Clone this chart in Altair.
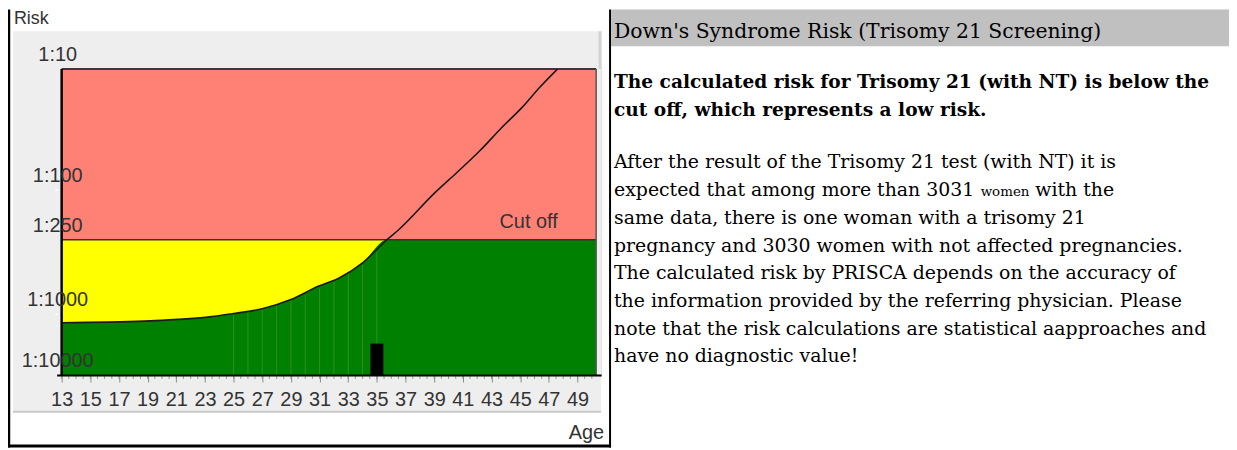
import altair as alt
import pandas as pd

# ---------------- data ----------------
AGES = [13, 18.8, 21.1, 23.2, 24.9, 27.0, 29.0, 30.9, 32.4, 34.0, 35.7, 36.5, 39.0, 40.6, 42.2, 43.7, 45.1, 46.4, 47.6]
RISK = [1368, 1288, 1208, 1107, 987, 900, 759, 594, 506, 384, 250, 209, 106, 71, 47, 30.5, 20.9, 14, 10]
CUTOFF = 250
PATIENT_AGE = [35]
PATIENT_RISK = [3031]
AGE_RANGE = [13, 50.3]
RISK_RANGE = [10, 10000]
Y_TICKS = [10, 100, 250, 1000, 10000]
X_TICKS = list(range(13, 50, 2))
MINOR_TICKS = [13 + 0.5 * i for i in range(75)]
# faint render seams visible in the green region (age, top risk)
SEAM_AGES = [25, 26, 27, 28, 29, 30, 31, 32, 33, 34, 35]
SEAM_TOPS = [1000, 960, 915, 850, 780, 700, 615, 545, 475, 400, 315]

HEADER = "Down's Syndrome Risk (Trisomy 21 Screening)"
RESULT_LINES = [
    "The calculated risk for Trisomy 21 (with NT) is below the",
    "cut off, which represents a low risk.",
]
BODY_LINES = [
    "After the result of the Trisomy 21 test (with NT) it is",
    "expected that among more than 3031",
    "same data, there is one woman with a trisomy 21",
    "pregnancy and 3030 women with not affected pregnancies.",
    "The calculated risk by PRISCA depends on the accuracy of",
    "the information provided by the referring physician. Please",
    "note that the risk calculations are statistical aapproaches and",
    "have no diagnostic value!",
]
SMALL_WORD = "women"
LINE2_TAIL = "with the"

# ---------------- tables ----------------
curve = pd.DataFrame({"age": AGES, "risk": RISK})
area = pd.DataFrame({
    "age": AGES + [AGE_RANGE[1]],
    "risk": [max(r, CUTOFF) for r in RISK] + [CUTOFF],
})
zones = pd.DataFrame({
    "zone": ["high", "low"],
    "a0": [AGE_RANGE[0]] * 2,
    "a1": [AGE_RANGE[1]] * 2,
    "r0": [RISK_RANGE[0], CUTOFF],
    "r1": [CUTOFF, RISK_RANGE[1]],
})
patient = pd.DataFrame({"age": PATIENT_AGE, "risk": PATIENT_RISK})
seams = pd.DataFrame({"age": SEAM_AGES, "risk": SEAM_TOPS})
yticks = pd.DataFrame({"risk": Y_TICKS, "label": [f"1:{v}" for v in Y_TICKS]})
minor = pd.DataFrame({"age": MINOR_TICKS})
frame = pd.DataFrame({"a0": [AGE_RANGE[0]], "a1": [AGE_RANGE[1]],
                      "r0": [RISK_RANGE[0]], "r1": [RISK_RANGE[1]], "cut": [CUTOFF]})

# ---------------- scales ----------------
W, H = 548, 308
xs = alt.Scale(domain=AGE_RANGE, nice=False, zero=False)
ys = alt.Scale(type="log", domain=[10, 100, 1000, 10000], range=[0, 122, 247, 308], nice=False)
xaxis = alt.Axis(values=X_TICKS, title=None, grid=False, domain=True, domainColor="#000000",
                 domainWidth=2, ticks=True, tickColor="#8a8a8a", tickSize=7, tickWidth=1,
                 labelFontSize=20, labelFont="Liberation Sans", labelColor="#333333",
                 labelPadding=8, labelFlush=False, labelOverlap=False, zindex=2)
SANS = "Liberation Sans"
SERIF = "DejaVu Serif"


def X(f):
    return alt.X(f"{f}:Q", scale=xs, axis=xaxis)


def Y(f):
    return alt.Y(f"{f}:Q", scale=ys, axis=None)


one = alt.Data(values=[{}])
layers = []

# grey panel behind the plot
layers.append(alt.Chart(one).mark_rect(color="#eeeeee").encode(
    x=alt.value(-44), x2=alt.value(548), y=alt.value(-38), y2=alt.value(344)))
layers.append(alt.Chart(one).mark_rule(color="#c8c8c8", strokeWidth=2).encode(
    x=alt.value(-44), x2=alt.value(548), y=alt.value(345)))
layers.append(alt.Chart(one).mark_rule(color="#d2d2d2", strokeWidth=3).encode(
    x=alt.value(547), y=alt.value(-38), y2=alt.value(0)))

# zones
layers.append(alt.Chart(zones).mark_rect().encode(
    x=X("a0"), x2="a1", y=Y("r0"), y2="r1",
    color=alt.Color("zone:N", scale=alt.Scale(domain=["high", "low"], range=["#ff8176", "#ffff00"]),
                    legend=None)))
layers.append(alt.Chart(area).mark_area(color="#008000", interpolate="monotone").encode(
    x=X("age"), y=Y("risk"), y2=alt.datum(RISK_RANGE[1])))
layers.append(alt.Chart(seams).mark_rule(color="#5aa02a", strokeWidth=1, opacity=0.55).encode(
    x=X("age"), y=Y("risk"), y2=alt.datum(RISK_RANGE[1])))

# frame lines
layers.append(alt.Chart(frame).mark_rule(color="#333333", strokeWidth=1.6).encode(
    x=X("a0"), x2="a1", y=Y("cut")))
layers.append(alt.Chart(frame).mark_rule(color="#3a3a3a", strokeWidth=2).encode(
    x=X("a0"), x2="a1", y=Y("r0")))
layers.append(alt.Chart(frame).mark_rule(color="#555555", strokeWidth=1.5).encode(
    x=X("a1"), y=Y("r0"), y2="r1"))

# curve and patient bar
layers.append(alt.Chart(curve).mark_line(color="#1a1a1a", strokeWidth=1.6, interpolate="monotone",
                                         clip=True).encode(x=X("age"), y=Y("risk")))
layers.append(alt.Chart(patient).mark_bar(color="#000000", size=13).encode(
    x=X("age"), y=Y("risk"), y2=alt.datum(RISK_RANGE[1])))

# left axis line + notches
layers.append(alt.Chart(frame).mark_rule(color="#000000", strokeWidth=2.5).encode(
    x=X("a0"), y=Y("r0"), y2="r1"))
layers.append(alt.Chart(yticks[yticks.risk.isin([100, 1000])]).mark_rule(color="#ffffff", strokeWidth=1.5).encode(
    x=alt.value(-1.5), x2=alt.value(1.5), y=Y("risk")))

# minor ticks
layers.append(alt.Chart(minor).mark_rule(color="#9a9a9a", strokeWidth=1).encode(
    x=X("age"), y=alt.value(H + 1), y2=alt.value(H + 4)))

# y labels
layers.append(alt.Chart(yticks).mark_text(font=SANS, fontSize=20, color="#333333", align="center",
                                          baseline="middle", dy=-14).encode(
    x=alt.value(1), y=Y("risk"), text="label:N"))

# annotations
layers.append(alt.Chart(one).mark_text(font=SANS, fontSize=20, color="#333333", align="center",
                                       baseline="middle", text="Cut off").encode(
    x=alt.value(475), y=alt.value(154)))
layers.append(alt.Chart(one).mark_text(font=SANS, fontSize=18, color="#333333", align="left",
                                       baseline="top", text="Risk").encode(
    x=alt.value(-43), y=alt.value(-59)))
layers.append(alt.Chart(one).mark_text(font=SANS, fontSize=20, color="#333333", align="right",
                                       baseline="middle", text="Age").encode(
    x=alt.value(551), y=alt.value(366)))

# black border of the chart box
layers.append(alt.Chart(one).mark_rule(color="#000000", strokeWidth=2.5).encode(
    x=alt.value(-48), y=alt.value(-60), y2=alt.value(381)))
layers.append(alt.Chart(one).mark_rule(color="#000000", strokeWidth=2).encode(
    x=alt.value(557), y=alt.value(-60), y2=alt.value(381)))
layers.append(alt.Chart(one).mark_rule(color="#000000", strokeWidth=3).encode(
    x=alt.value(-49), x2=alt.value(558), y=alt.value(379.5)))

# right text panel
TX = 561
layers.append(alt.Chart(one).mark_rect(color="#c0c0c0").encode(
    x=alt.value(558), x2=alt.value(1180), y=alt.value(-60), y2=alt.value(-23)))
layers.append(alt.Chart(one).mark_text(font=SERIF, fontSize=20.5, color="#000000", align="left",
                                       baseline="alphabetic", text=HEADER).encode(
    x=alt.value(TX), y=alt.value(-31)))
for i, line in enumerate(RESULT_LINES):
    layers.append(alt.Chart(one).mark_text(font=SERIF, fontSize=18.7, fontWeight="bold", color="#000000",
                                           align="left", baseline="alphabetic", text=line).encode(
        x=alt.value(TX), y=alt.value(19 + 28 * i)))
for i, line in enumerate(BODY_LINES):
    layers.append(alt.Chart(one).mark_text(font=SERIF, fontSize=19, color="#000000", align="left",
                                           baseline="alphabetic", text=line).encode(
        x=alt.value(TX), y=alt.value(100 + 27.9 * i)))
layers.append(alt.Chart(one).mark_text(font=SERIF, fontSize=13.5, color="#000000", align="left",
                                       baseline="alphabetic", text=SMALL_WORD).encode(
    x=alt.value(TX + 369), y=alt.value(100 + 27.9)))
layers.append(alt.Chart(one).mark_text(font=SERIF, fontSize=19, color="#000000", align="left",
                                       baseline="alphabetic", text=LINE2_TAIL).encode(
    x=alt.value(TX + 369 + 55), y=alt.value(100 + 27.9)))

chart = alt.layer(*layers).properties(
    width=W, height=H,
    autosize=alt.AutoSizeParams(type="none"),
    padding={"left": 49, "top": 60, "right": 632, "bottom": 74},
).configure_view(stroke="transparent").configure(background="#ffffff")

chart.save("out.html", embed_options={"renderer": "svg", "actions": False})
